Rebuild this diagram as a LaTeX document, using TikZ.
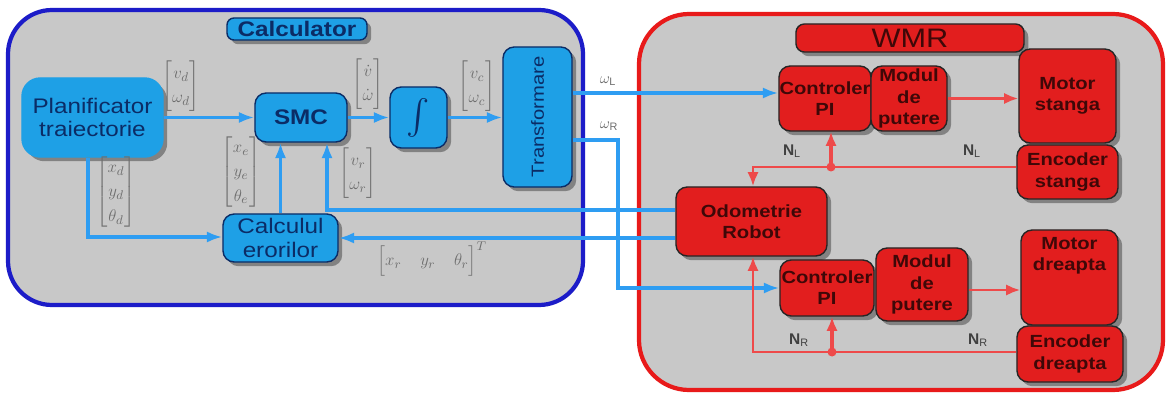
\documentclass[tikz,border=0pt]{standalone}
\usepackage{amsmath}
\usepackage{fontspec}
\setmainfont{Liberation Sans}
\newfontfamily\wfont[FakeStretch=1.15]{Liberation Sans}
\usetikzlibrary{arrows.meta,shadows,calc}
\renewcommand{\arraystretch}{1.15}
\definecolor{panelgray}{HTML}{C8C8C8}
\definecolor{blueboxc}{HTML}{1EA0E6}
\definecolor{bluetext}{HTML}{0B2C66}
\definecolor{blueline}{HTML}{2E9DF2}
\definecolor{blueborder}{HTML}{1C1CC8}
\definecolor{redboxc}{HTML}{E21E1E}
\definecolor{redborder}{HTML}{E81A1A}
\definecolor{redline}{HTML}{EE4A4A}
\definecolor{redtext}{HTML}{3F0808}
\definecolor{labgray}{HTML}{6E6E6E}
\tikzset{
  shade1/.style={drop shadow={shadow xshift=3pt,shadow yshift=-3pt,fill=black,opacity=0.35}},
  bbox/.style={draw=bluetext, line width=1pt, fill=blueboxc, rounded corners=8pt,
    text=bluetext, font=\wfont\fontsize{15}{17}\selectfont, align=center, inner sep=0pt, shade1},
  rbox/.style={draw=black!85, line width=1pt, fill=redboxc, rounded corners=8pt,
    text=redtext, font=\wfont\bfseries\fontsize{12.5}{15}\selectfont, align=center, inner sep=0pt, shade1},
  mlab/.style={text=labgray, inner sep=0pt, font=\fontsize{13}{15}\selectfont},
  wlab/.style={text=labgray, inner sep=0pt, font=\fontsize{11}{12}\selectfont},
  nlab/.style={text=black!75, inner sep=0pt, font=\bfseries\fontsize{11}{12}\selectfont},
  bline/.style={draw=blueline, line width=2.2pt},
  barrow/.style={bline, -{Latex[length=11pt,width=8pt]}},
  rline/.style={draw=redline, line width=2pt},
  rarrow/.style={rline, -{Latex[length=10pt,width=8pt]}},
}
\begin{document}
\begin{tikzpicture}[x=0.025cm,y=-0.025cm]
\useasboundingbox[fill=white] (0,0) rectangle (1167,394);

% panels
\draw[draw=blueborder, line width=3pt, fill=panelgray, rounded corners=1.1cm] (8,10) rectangle (583,305);
\draw[draw=redborder, line width=3pt, fill=panelgray, rounded corners=1.25cm] (639,14) rectangle (1163,390);

% ---------- left panel nodes ----------
\node[bbox, font=\wfont\bfseries\fontsize{15}{17}\selectfont, rounded corners=5pt, minimum width=3.5cm, minimum height=0.55cm, drop shadow={opacity=0}] (calclab) at (297,29) {Calculator};
\node[bbox, draw=blueboxc, rounded corners=13pt, minimum width=3.525cm, minimum height=1.975cm, drop shadow={opacity=0}] (plan) at (92.5,117.5) {Planificator\\traiectorie};
\node[bbox, font=\wfont\bfseries\fontsize{15}{17}\selectfont, minimum width=2.3cm, minimum height=1.225cm] (smc) at (301,117.5) {SMC};
\node[bbox, minimum width=1.425cm, minimum height=1.525cm, font=\fontsize{26}{28}\selectfont] (int) at (418.5,117.5) {$\int$};
\node[bbox, minimum width=1.725cm, minimum height=3.5cm] (trans) at (537.5,117) {};
\node[text=bluetext, rotate=90, font=\wfont\fontsize{12.5}{14}\selectfont, inner sep=0pt] (translab) at (trans.center) {Transformare};
\node[bbox, minimum width=2.875cm, minimum height=1.2cm] (calc) at (280.5,238) {Calculul\\erorilor};

% ---------- right panel nodes ----------
\node[rbox, font=\wfont\fontsize{19}{21}\selectfont, rounded corners=6pt, minimum width=5.7cm, minimum height=0.7cm, drop shadow={opacity=0}] (wmr) at (910,38) {WMR};
\node[rbox, minimum width=2.425cm, minimum height=2.35cm] (motl) at (1067.5,96) {Motor\\stanga};
\node[rbox, minimum width=2.525cm, minimum height=1.35cm] (encl) at (1067.5,172) {Encoder\\stanga};
\node[rbox, minimum width=2.3cm, minimum height=1.625cm] (ctrll) at (825,98.5) {Controler\\PI};
\node[rbox, minimum width=1.9cm, minimum height=1.625cm] (modl) at (909,98.5) {Modul\\de\\putere};
\node[rbox, minimum width=3.775cm, minimum height=1.725cm] (odo) at (751.5,221.5) {Odometrie\\Robot};
\node[rbox, minimum width=2.425cm, minimum height=2.375cm] (motr) at (1069.5,277.5) {Motor\\dreapta\\[18pt]};
\node[rbox, minimum width=2.65cm, minimum height=1.4cm] (encr) at (1070,354) {Encoder\\dreapta};
\node[rbox, minimum width=2.35cm, minimum height=1.4cm] (ctrlr) at (827,288) {Controler\\PI};
\node[rbox, minimum width=2.3cm, minimum height=1.825cm] (modr) at (922,284.5) {Modul\\de\\putere};

% ---------- blue connectors ----------
\draw[barrow] (plan.east) -- (smc.west);
\draw[barrow] (smc.east) -- (int.west);
\draw[barrow] (int.east) -- (trans.west |- int.east);
\coordinate (p1) at (88,237);
\draw[barrow] (plan.south -| p1) -- (p1) -- (calc.west |- p1);
\draw[barrow] (calc.north) -- (smc.south -| calc.north);
\coordinate (q1) at (327,210);
\draw[barrow] (odo.west |- q1) -- (q1) -- (smc.south -| q1);
\draw[barrow] (odo.west |- calc.east) -- (calc.east);
\coordinate (wl) at (572,93);
\draw[barrow] (trans.east |- wl) -- (ctrll.west |- wl);
\coordinate (wr) at (618,140);
\draw[barrow] (trans.east |- wr) -- (wr) -- (wr |- ctrlr.west) -- (ctrlr.west);

% ---------- red connectors ----------
\draw[rarrow] (modl.east) -- (motl.west |- modl.east);
\coordinate (mr) at (968,290);
\draw[rarrow] (modr.east |- mr) -- (motr.west |- mr);
\coordinate (tl) at (753,167);
\coordinate (dl) at (831,167);
\draw[rarrow] (encl.west |- tl) -- (tl) -- (odo.north -| tl);
\draw[rarrow, line width=3pt] (dl) -- (ctrll.south -| dl);
\fill[redline] (dl) circle (4.5);
\coordinate (bl) at (753,352);
\coordinate (db) at (832,352);
\draw[rarrow] (encr.west |- bl) -- (bl) -- (odo.south -| bl);
\draw[rarrow, line width=3pt] (db) -- (ctrlr.south -| db);
\fill[redline] (db) circle (4.5);

% ---------- labels ----------
\node[mlab] (l1) at (181,86) {$\begin{bmatrix} v_d\\ \omega_d\end{bmatrix}$};
\node[mlab] (l2) at (368,84) {$\begin{bmatrix} \dot v\\ \dot\omega\end{bmatrix}$};
\node[mlab] (l3) at (477,86) {$\begin{bmatrix} v_c\\ \omega_c\end{bmatrix}$};
\node[mlab] (l4) at (241,172) {$\begin{bmatrix} x_e\\ y_e\\ \theta_e\end{bmatrix}$};
\node[mlab] (l5) at (358,173) {$\begin{bmatrix} v_r\\ \omega_r\end{bmatrix}$};
\node[mlab] (l6) at (116,192) {$\begin{bmatrix} x_d\\ y_d\\ \theta_d\end{bmatrix}$};
\node[mlab] (l7) at (432,259) {$\begin{bmatrix} x_r & \; y_r & \; \theta_r\end{bmatrix}^T$};
\node[wlab] (l8) at (608,81) {$\omega_{\mathrm{L}}$};
\node[wlab] (l9) at (609,126) {$\omega_{\mathrm{R}}$};
\node[nlab] (n1) at (792,151) {N$_{\mathrm{L}}$};
\node[nlab] (n2) at (972,151) {N$_{\mathrm{L}}$};
\node[nlab] (n3) at (799,340) {N$_{\mathrm{R}}$};
\node[nlab] (n4) at (978,340) {N$_{\mathrm{R}}$};
\end{tikzpicture}
\end{document}
